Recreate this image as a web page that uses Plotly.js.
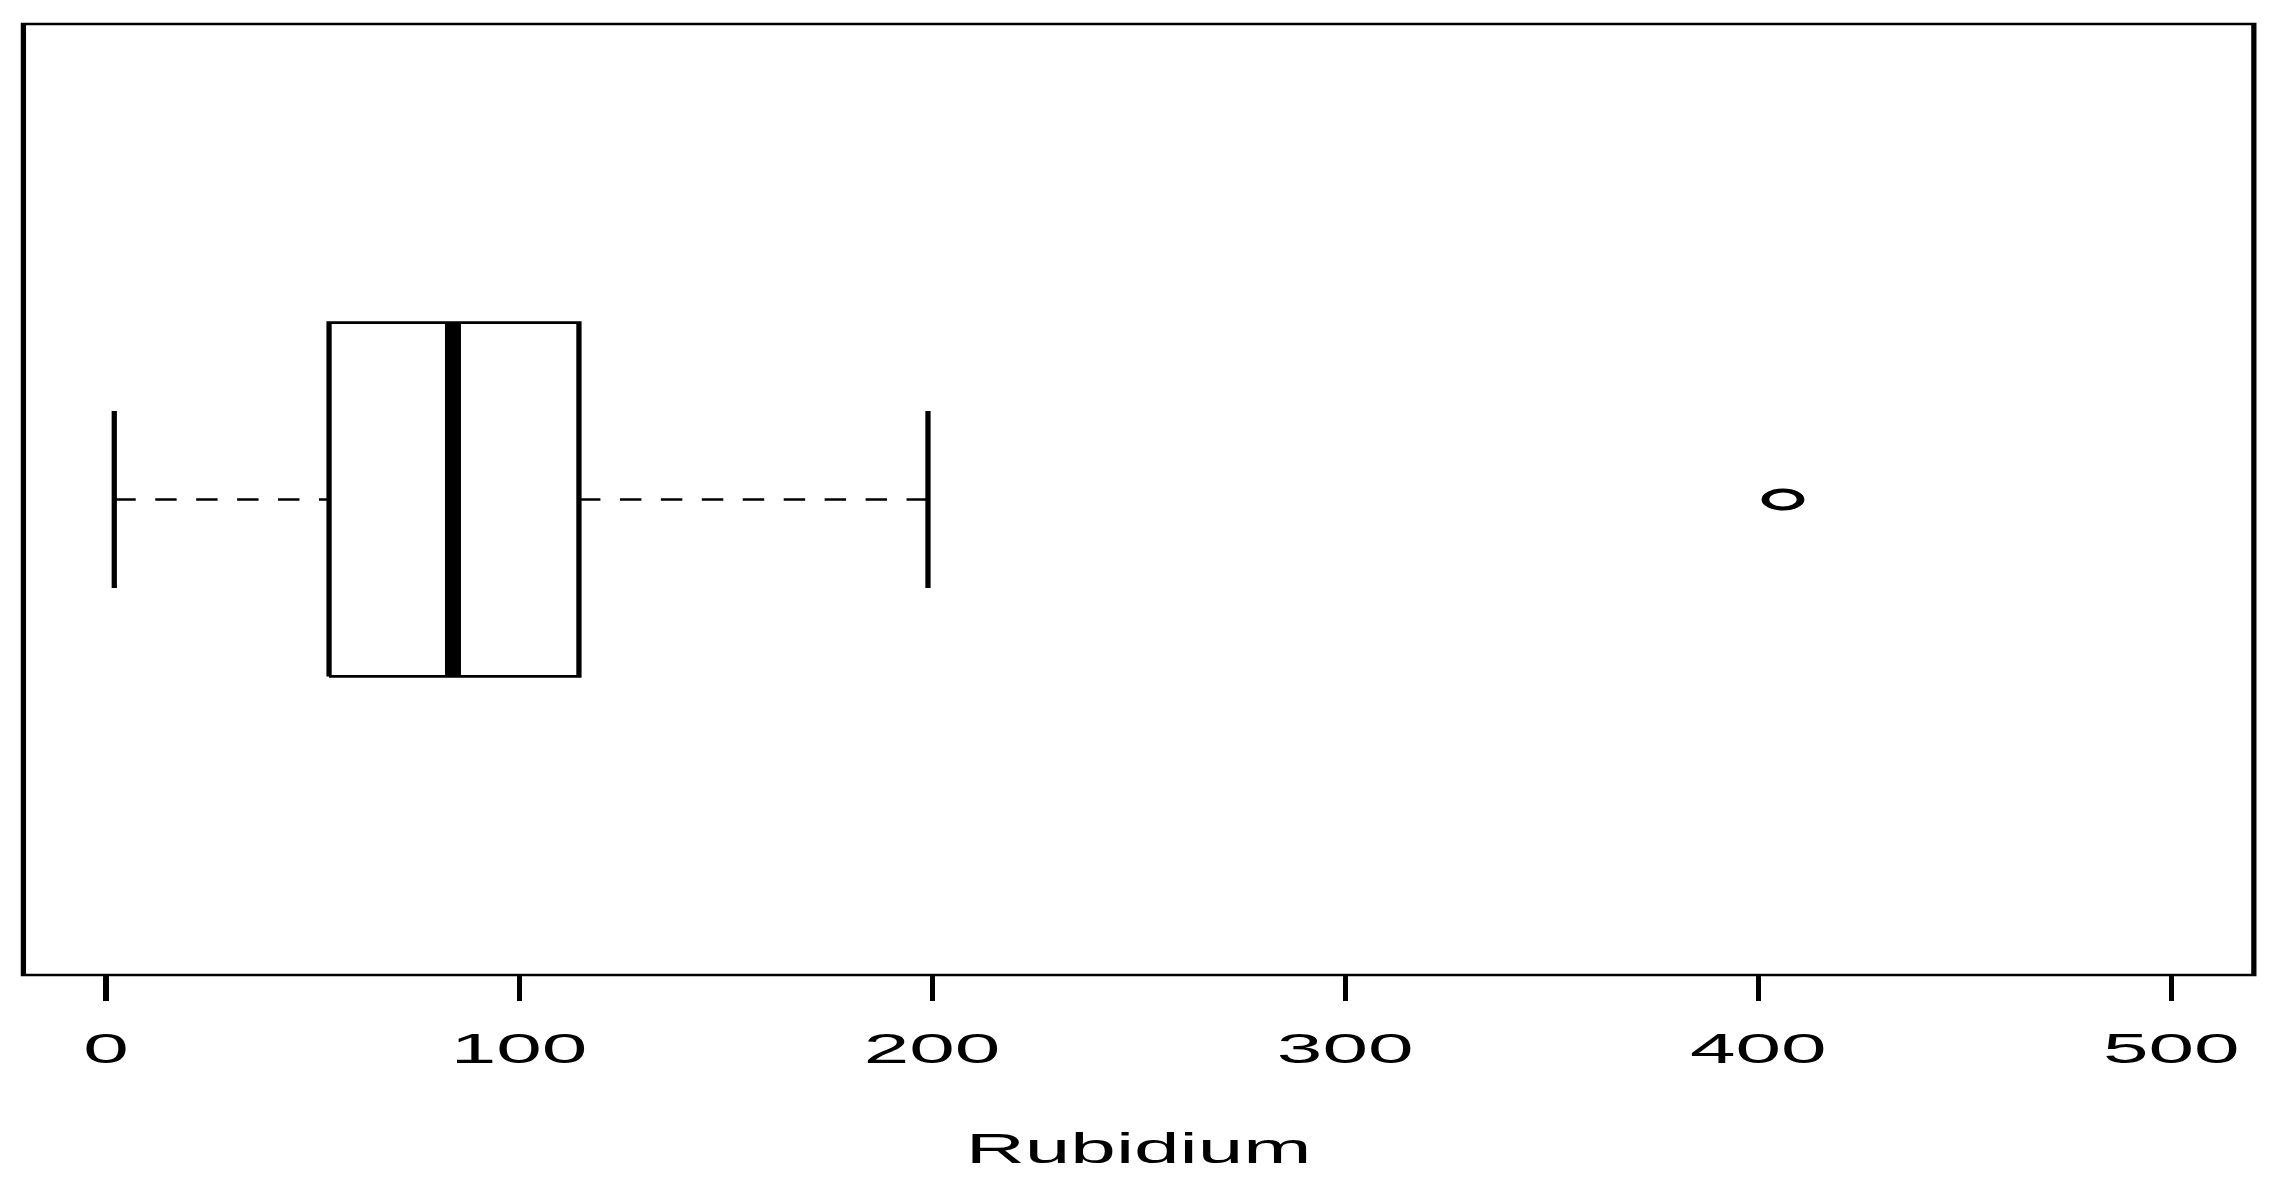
<!DOCTYPE html>
<html><head><meta charset="utf-8">
<script src="https://cdn.plot.ly/plotly-3.0.1.min.js"></script>
<style>
html,body{margin:0;padding:0;background:#fff;overflow:hidden;}
#wrap{width:2285px;height:1188px;overflow:hidden;background:#fff;}
#chart{width:1172px;height:1188px;transform:scaleX(1.9497);transform-origin:0 0;}
</style></head><body>
<div id="wrap"><div id="chart"></div></div>
<script>
// ---- data ----
const variableName = "Rubidium";
const whiskerLow = [2];
const quartile1 = [54];
const medianVal = [84];
const quartile3 = [114.5];
const whiskerHigh = [199];
const outlierVals = [406];
const tickValues = [0, 100, 200, 300, 400, 500];
const tickLabels = ["0", "100", "200", "300", "400", "500"];

// ---- styling constants ----
const CENTER = 1, BOX_HALF = 0.372, CAP_HALF = 0.186;
const LW = 2.7;
const black = "#000000";

const lo = whiskerLow[0], a = quartile1[0], m = medianVal[0], b = quartile3[0], hi = whiskerHigh[0];

const traces = [
  // box outline
  {type: "scatter", mode: "lines", x: [a, b, b, a, a],
   y: [CENTER - BOX_HALF, CENTER - BOX_HALF, CENTER + BOX_HALF, CENTER + BOX_HALF, CENTER - BOX_HALF],
   line: {color: black, width: LW}, fill: "toself", fillcolor: "rgba(0,0,0,0)", hoverinfo: "skip"},
  // median
  {type: "scatter", mode: "lines", x: [m, m], y: [CENTER - BOX_HALF, CENTER + BOX_HALF],
   line: {color: black, width: 8.2}, hoverinfo: "skip"},
  // whiskers (dashed)
  {type: "scatter", mode: "lines", x: [lo, a], y: [CENTER, CENTER],
   line: {color: black, width: LW, dash: "11px,10px"}, hoverinfo: "skip"},
  {type: "scatter", mode: "lines", x: [hi, b], y: [CENTER, CENTER],
   line: {color: black, width: LW, dash: "11px,10px"}, hoverinfo: "skip"},
  // staples
  {type: "scatter", mode: "lines", x: [lo, lo], y: [CENTER - CAP_HALF, CENTER + CAP_HALF],
   line: {color: black, width: LW}, hoverinfo: "skip"},
  {type: "scatter", mode: "lines", x: [hi, hi], y: [CENTER - CAP_HALF, CENTER + CAP_HALF],
   line: {color: black, width: LW}, hoverinfo: "skip"},
  // outliers
  {type: "scatter", mode: "markers", x: outlierVals, y: outlierVals.map(() => CENTER),
   marker: {symbol: "circle-open", size: 18, color: black, line: {color: black, width: 4}}, hoverinfo: "x"}
];

const layout = {
  width: 1172, height: 1188,
  margin: {l: 12, r: 16, t: 24, b: 212.5, pad: 0},
  paper_bgcolor: "#ffffff", plot_bgcolor: "#ffffff",
  showlegend: false,
  font: {family: "Liberation Sans, Arial, Helvetica, sans-serif", color: black, size: 42},
  xaxis: {
    range: [-20, 520], tickmode: "array", tickvals: tickValues, ticktext: tickLabels,
    ticks: "outside", ticklen: 25, tickwidth: 2.6, tickcolor: black,
    showgrid: false, zeroline: false, showline: false,
    tickfont: {size: 42, color: black}, ticklabelstandoff: 12,
    title: {text: variableName, font: {size: 42, color: black}, standoff: 62},
    fixedrange: true
  },
  yaxis: {range: [0, 2], visible: false, showgrid: false, zeroline: false, fixedrange: true},
  shapes: [
    {type: "rect", xref: "paper", yref: "paper", x0: 0, x1: 1, y0: 0, y1: 1,
     line: {color: black, width: LW}, fillcolor: "rgba(0,0,0,0)", layer: "above"}
  ]
};

Plotly.newPlot("chart", traces, layout, {staticPlot: true, displayModeBar: false});
</script>
</body></html>
